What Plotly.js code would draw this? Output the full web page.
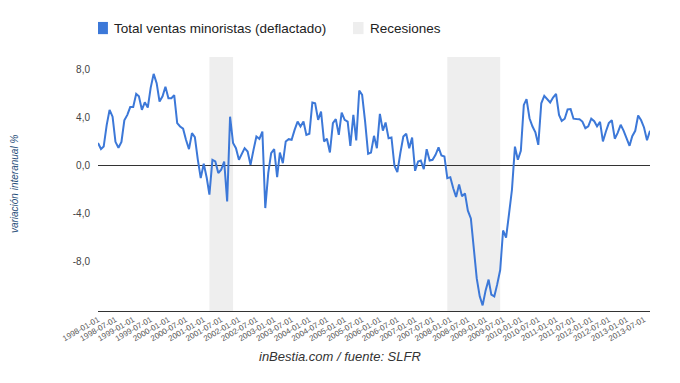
<!DOCTYPE html>
<html>
<head>
<meta charset="utf-8">
<script src="https://cdn.plot.ly/plotly-3.0.1.min.js"></script>
<style>html,body{margin:0;padding:0;background:#fff;}#chart{width:680px;height:383px;}</style>
</head>
<body>
<div id="chart"></div>
<script>
// Monthly series start
var startYear = 1998;
// Total ventas minoristas (deflactado), variación interanual %, 1998-01 .. 2013-09
var ventas = [
  1.9, 1.4, 1.6, 3.4, 4.67, 4.1, 2.0, 1.5, 2.0, 3.8, 4.25, 4.9,
  4.9, 6.0, 5.8, 4.67, 5.3, 4.86, 6.5, 7.67, 6.9, 5.36, 5.8, 6.6,
  5.64, 5.64, 5.9, 3.56, 3.28, 3.1, 2.17, 1.39, 2.72, 2.39, 0.5, -1.03,
  0.17, -1.0, -2.4, 0.5, 0.36, -0.6, -0.33, 0.36, -2.97, 4.1, 1.9, 1.47,
  0.5, 1.06, 1.47, 1.19, 0.08, 1.33, 2.44, 2.25, 2.86, -3.53, -0.6, 1.06,
  1.39, -0.94, 1.11, 0.22, 2.03, 2.22, 2.17, 3.0, 3.69, 3.28, 3.69, 2.58,
  2.67, 5.28, 5.22, 3.83, 4.53, 2.03, 2.25, 1.11, 3.56, 3.89, 2.58, 4.44,
  3.83, 3.69, 1.67, 4.25, 2.11, 6.28, 5.92, 3.69, 1.0, 1.11, 2.5, 1.47,
  4.33, 2.94, 3.61, 2.3, 2.36, 0.0, -0.53, 1.06, 2.44, 2.67, 1.47, 2.36,
  -0.42, 0.36, 0.44, -0.28, 1.39, 0.44, 0.5, 0.92, 1.53, 0.86, 0.78, -1.03,
  -0.95, -1.9, -2.6, -1.55, -2.55, -2.3, -3.75, -4.4, -7.1, -9.4, -10.9, -11.65,
  -10.4, -9.5, -10.75, -10.9, -9.9, -8.7, -5.4, -6.0, -4.0, -2.0, 1.6, 0.5,
  1.25, 5.08, 5.56, 3.97, 3.3, 2.8, 1.75, 5.22, 5.83, 5.53, 5.28, 5.7,
  6.0, 4.25, 3.75, 3.93, 4.7, 4.73, 3.93, 3.9, 3.89, 3.69, 3.14, 3.3,
  3.93, 3.72, 3.3, 3.66, 2.03, 2.86, 3.56, 3.8, 2.26, 2.75, 3.42, 2.93,
  2.35, 1.67, 2.47, 2.92, 4.2, 3.8, 3.2, 2.14, 2.92
];
var recStart = ['2001-03-01', '2007-12-01'];
var recEnd   = ['2001-11-01', '2009-06-01'];
var yTickVals = [8, 4, 0, -4, -8];
var yTickText = ['8,0', '4,0', '0,0', '-4,0', '-8,0'];
var seriesName = 'Total ventas minoristas (deflactado)';
var recName = 'Recesiones';
var yTitle = 'variación interanual %';
var caption = 'inBestia.com / fuente: SLFR';

function pad(n){ return (n < 10 ? '0' : '') + n; }
var fechas = ventas.map(function(v, i){
  return (startYear + Math.floor(i / 12)) + '-' + pad(i % 12 + 1) + '-01';
});
var xTickVals = [], xTickText = [];
for (var i = 0; i < fechas.length; i += 6) { xTickVals.push(fechas[i]); xTickText.push(fechas[i]); }

var blue = '#3c78d8';
var grey = '#eeeeee';
var font = 'Liberation Sans, Arial, sans-serif';

var shapes = recStart.map(function(s, k){
  return {type:'rect', xref:'x', yref:'paper', x0:s, x1:recEnd[k], y0:0, y1:1,
          fillcolor:grey, line:{width:0}, layer:'below'};
});
// legend swatches (paper coords)
shapes.push({type:'rect', xref:'paper', yref:'paper', x0:0, x1:0.018, y0:1.09, y1:1.138, fillcolor:blue, line:{width:0}});
shapes.push({type:'rect', xref:'paper', yref:'paper', x0:0.462, x1:0.481, y0:1.09, y1:1.138, fillcolor:grey, line:{width:0}});

var annotations = [
  {xref:'paper', yref:'paper', x:0.026, y:1.114, xanchor:'left', yanchor:'middle', showarrow:false,
   text:seriesName, font:{family:font, size:13.5, color:'#222'}},
  {xref:'paper', yref:'paper', x:0.49, y:1.114, xanchor:'left', yanchor:'middle', showarrow:false,
   text:recName, font:{family:font, size:13.5, color:'#222'}},
  {xref:'paper', yref:'paper', x:-0.152, y:0.5, xanchor:'center', yanchor:'middle', showarrow:false,
   textangle:-90, text:'<i>' + yTitle + '</i>', font:{family:font, size:10, color:'#1f4e79'}},
  {xref:'paper', yref:'paper', x:0.438, y:-0.179, xanchor:'center', yanchor:'middle', showarrow:false,
   text:'<i>' + caption + '</i>', font:{family:font, size:13, color:'#333'}}
];

var trace = {
  x: fechas, y: ventas, type:'scatter', mode:'lines', name: seriesName,
  line:{color:blue, width:2}, showlegend:false, hoverinfo:'x+y'
};

var layout = {
  width:680, height:383,
  margin:{l:98, r:30, t:57, b:71.5, pad:0},
  paper_bgcolor:'#fff', plot_bgcolor:'rgba(0,0,0,0)',
  showlegend:false,
  font:{family:font, color:'#444'},
  xaxis:{
    type:'date', range:[fechas[0], fechas[fechas.length-1]],
    tickmode:'array', tickvals:xTickVals, ticktext:xTickText, tickangle:-30,
    tickfont:{family:font, size:8, color:'#555'},
    showgrid:false, zeroline:false, showline:true, linecolor:'#333', linewidth:1,
    ticks:'', automargin:false
  },
  yaxis:{
    range:[-12.12, 9.08], tickmode:'array', tickvals:yTickVals, ticktext:yTickText,
    tickfont:{family:font, size:10, color:'#444'},
    showgrid:false, zeroline:true, zerolinecolor:'#333', zerolinewidth:1,
    showline:false, ticks:'', ticklabelstandoff:7, automargin:false
  },
  shapes: shapes,
  annotations: annotations
};

Plotly.newPlot('chart', [trace], layout, {displayModeBar:false, staticPlot:true});
</script>
</body>
</html>
